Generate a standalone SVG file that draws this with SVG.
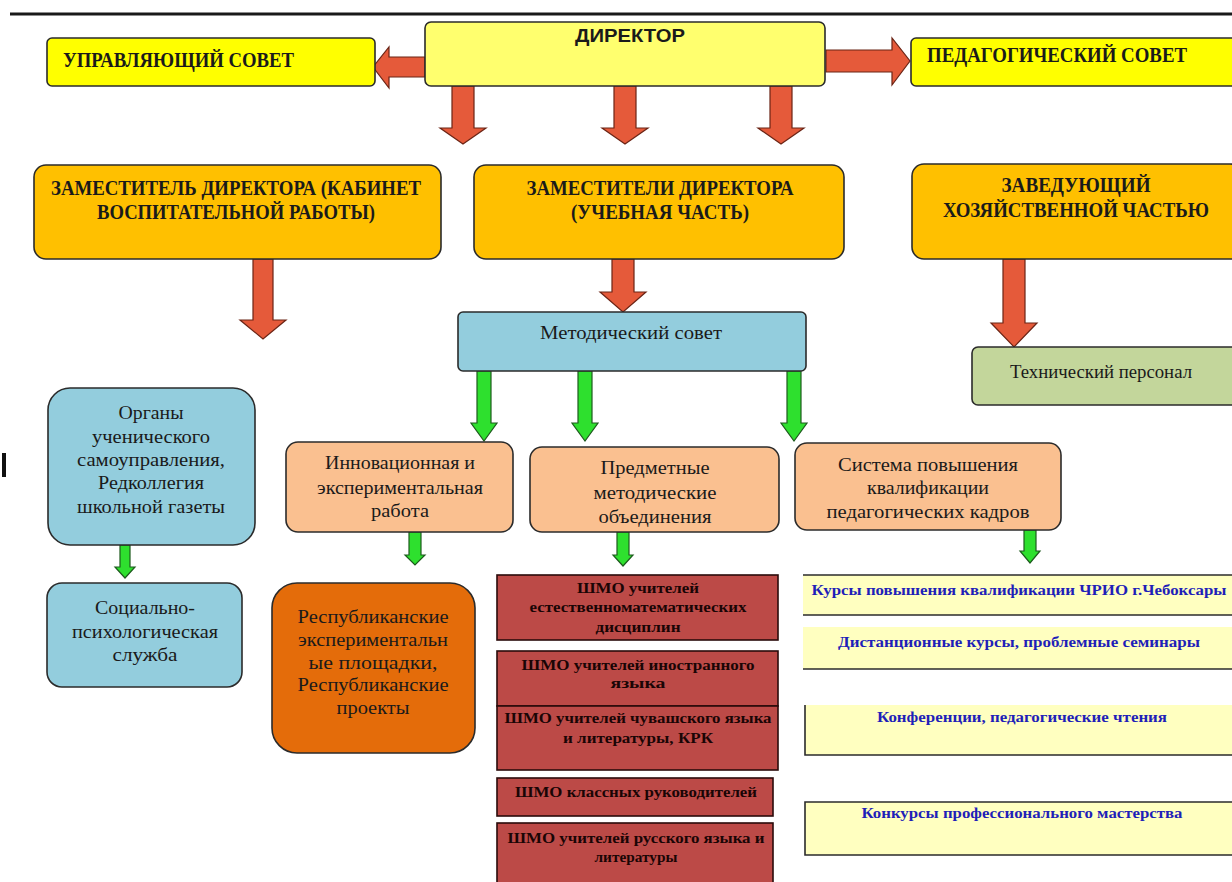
<svg xmlns="http://www.w3.org/2000/svg" width="1232" height="882" viewBox="0 0 1232 882">
<style>
.box{stroke:#2b2b2b;stroke-width:1.6}
.yel{fill:#FFFF00}
.dir{fill:#FFFF6E}
.org{fill:#FFC000}
.blu{fill:#93CDDD}
.pch{fill:#FAC090}
.dor{fill:#E46C0A}
.olv{fill:#C3D69B}
.shmo{fill:#BC4A47;stroke:#2a0a0a;stroke-width:1.6}
.ly{fill:#FFFFC0}
.ln{stroke:#2b2b2b;stroke-width:1.6;fill:none}
.ra{fill:#E55A3A;stroke:#6b2415;stroke-width:1.2}
.ga{fill:#2EE02E;stroke:#1d5a1d;stroke-width:1.2}
text{font-family:"Liberation Serif","Times New Roman",serif;fill:#1a1a1a}
.hd{font-size:20px;font-weight:bold;text-anchor:middle}
.hl{font-size:20px;font-weight:bold}
.nm{font-size:18px;text-anchor:middle}
.sm{font-size:14px;font-weight:bold;text-anchor:middle;fill:#1a0505}
.bt{font-size:14px;font-weight:bold;text-anchor:middle;fill:#1F1FB8}
</style>
<rect x="0" y="0" width="1232" height="882" fill="#FFFFFF"/>
<line x1="10" y1="14" x2="1232" y2="14" stroke="#1a1a1a" stroke-width="3"/>
<rect x="2" y="453" width="4" height="24" fill="#111"/>

<g id="connectors">
<polygon class="ra" points="425,57 389,57 389,47 373,67 389,88 389,77 425,77"/>
<polygon class="ra" points="826,50 892,50 892,38 910,61 892,85 892,72 826,72"/>
<polygon class="ra" points="452,86 474,86 474,128 486,128 463,144 440,128 452,128"/>
<polygon class="ra" points="614,86 636,86 636,128 648,128 625,144 602,128 614,128"/>
<polygon class="ra" points="770,86 792,86 792,128 804,128 781,144 758,128 770,128"/>
<polygon class="ra" points="253,259 273,259 273,320 286,320 263,339 240,320 253,320"/>
<polygon class="ra" points="612,259 634,259 634,292 646,292 623,312 600,292 612,292"/>
<polygon class="ra" points="1003,259 1025,259 1025,323 1037,323 1014,347 991,323 1003,323"/>
<polygon class="ga" points="477,371 491,371 491,423 497,423 484,441 471,423 477,423"/>
<polygon class="ga" points="578,371 592,371 592,423 598,423 585,441 572,423 578,423"/>
<polygon class="ga" points="787,371 801,371 801,423 807,423 794,441 781,423 787,423"/>
<polygon class="ga" points="120,545 130,545 130,567 135,567 125,578 115,567 120,567"/>
<polygon class="ga" points="409,532 421,532 421,555 425,555 415,565 405,555 409,555"/>
<polygon class="ga" points="617,532 629,532 629,555 633,555 623,566 613,555 617,555"/>
<polygon class="ga" points="1024,530 1036,530 1036,551 1040,551 1030,563 1020,551 1024,551"/>
</g>

<g id="director">
<rect class="box dir" x="425" y="22" width="400" height="64" rx="6"/>
<text x="630" y="42" style="font-family:'Liberation Sans',Arial,sans-serif;font-size:18px;font-weight:bold;text-anchor:middle" textLength="110" lengthAdjust="spacingAndGlyphs">ДИРЕКТОР</text>
</g>
<g id="upr-sovet">
<rect class="box yel" x="47" y="38" width="328" height="48" rx="5"/>
<text class="hl" x="63" y="67" textLength="231" lengthAdjust="spacingAndGlyphs">УПРАВЛЯЮЩИЙ СОВЕТ</text>
</g>
<g id="ped-sovet">
<rect class="box yel" x="911" y="38" width="330" height="48" rx="5"/>
<text class="hl" x="927" y="62" textLength="260" lengthAdjust="spacingAndGlyphs">ПЕДАГОГИЧЕСКИЙ СОВЕТ</text>
</g>

<g id="zam-vosp">
<rect class="box org" x="34" y="165" width="407" height="94" rx="12"/>
<text class="hd" x="236" y="195" textLength="370" lengthAdjust="spacingAndGlyphs">ЗАМЕСТИТЕЛЬ ДИРЕКТОРА (КАБИНЕТ</text>
<text class="hd" x="236" y="219" textLength="278" lengthAdjust="spacingAndGlyphs">ВОСПИТАТЕЛЬНОЙ РАБОТЫ)</text>
</g>
<g id="zam-uch">
<rect class="box org" x="474" y="165" width="370" height="94" rx="12"/>
<text class="hd" x="660" y="195" textLength="267" lengthAdjust="spacingAndGlyphs">ЗАМЕСТИТЕЛИ ДИРЕКТОРА</text>
<text class="hd" x="660" y="219" textLength="178" lengthAdjust="spacingAndGlyphs">(УЧЕБНАЯ ЧАСТЬ)</text>
</g>
<g id="zav-hoz">
<rect class="box org" x="912" y="164" width="330" height="95" rx="12"/>
<text class="hd" x="1076" y="192" textLength="149" lengthAdjust="spacingAndGlyphs">ЗАВЕДУЮЩИЙ</text>
<text class="hd" x="1076" y="217" textLength="266" lengthAdjust="spacingAndGlyphs">ХОЗЯЙСТВЕННОЙ ЧАСТЬЮ</text>
</g>

<g id="metod-sovet">
<rect class="box blu" x="458" y="312" width="348" height="59" rx="5"/>
<text class="nm" x="631" y="339" textLength="182" lengthAdjust="spacingAndGlyphs">Методический совет</text>
</g>
<g id="tech-personal">
<rect class="box olv" x="972" y="347" width="270" height="58" rx="6"/>
<text class="nm" x="1101" y="378" textLength="182" lengthAdjust="spacingAndGlyphs">Технический персонал</text>
</g>

<g id="organy">
<rect class="box blu" x="48" y="388" width="207" height="157" rx="22"/>
<text class="nm" x="151" y="419" textLength="65" lengthAdjust="spacingAndGlyphs">Органы</text>
<text class="nm" x="151" y="443" textLength="118" lengthAdjust="spacingAndGlyphs">ученического</text>
<text class="nm" x="151" y="466" textLength="148" lengthAdjust="spacingAndGlyphs">самоуправления,</text>
<text class="nm" x="151" y="489" textLength="106" lengthAdjust="spacingAndGlyphs">Редколлегия</text>
<text class="nm" x="151" y="513" textLength="148" lengthAdjust="spacingAndGlyphs">школьной газеты</text>
</g>
<g id="innov">
<rect class="box pch" x="286" y="442" width="227" height="90" rx="12"/>
<text class="nm" x="400" y="469" textLength="150" lengthAdjust="spacingAndGlyphs">Инновационная и</text>
<text class="nm" x="400" y="494" textLength="166" lengthAdjust="spacingAndGlyphs">экспериментальная</text>
<text class="nm" x="400" y="517" textLength="58" lengthAdjust="spacingAndGlyphs">работа</text>
</g>
<g id="predmet">
<rect class="box pch" x="530" y="447" width="249" height="85" rx="12"/>
<text class="nm" x="655" y="474" textLength="109" lengthAdjust="spacingAndGlyphs">Предметные</text>
<text class="nm" x="655" y="499" textLength="123" lengthAdjust="spacingAndGlyphs">методические</text>
<text class="nm" x="655" y="523" textLength="113" lengthAdjust="spacingAndGlyphs">объединения</text>
</g>
<g id="sistema">
<rect class="box pch" x="795" y="443" width="266" height="87" rx="12"/>
<text class="nm" x="928" y="471" textLength="180" lengthAdjust="spacingAndGlyphs">Система повышения</text>
<text class="nm" x="928" y="494" textLength="122" lengthAdjust="spacingAndGlyphs">квалификации</text>
<text class="nm" x="928" y="518" textLength="203" lengthAdjust="spacingAndGlyphs">педагогических кадров</text>
</g>

<g id="social">
<rect class="box blu" x="47" y="583" width="195" height="104" rx="15"/>
<text class="nm" x="145" y="614" textLength="100" lengthAdjust="spacingAndGlyphs">Социально-</text>
<text class="nm" x="145" y="638" textLength="146" lengthAdjust="spacingAndGlyphs">психологическая</text>
<text class="nm" x="145" y="661" textLength="65" lengthAdjust="spacingAndGlyphs">служба</text>
</g>
<g id="respub">
<rect class="box dor" x="272" y="583" width="203" height="170" rx="25"/>
<text class="nm" x="373" y="623" textLength="151" lengthAdjust="spacingAndGlyphs">Республиканские</text>
<text class="nm" x="373" y="646" textLength="150" lengthAdjust="spacingAndGlyphs">экспериментальн</text>
<text class="nm" x="373" y="669" textLength="129" lengthAdjust="spacingAndGlyphs">ые площадки,</text>
<text class="nm" x="373" y="691" textLength="151" lengthAdjust="spacingAndGlyphs">Республиканские</text>
<text class="nm" x="373" y="714" textLength="73" lengthAdjust="spacingAndGlyphs">проекты</text>
</g>

<g id="shmo-estmat">
<rect class="shmo" x="497" y="575" width="281" height="65"/>
<text class="sm" x="638" y="593" textLength="122" lengthAdjust="spacingAndGlyphs">ШМО учителей</text>
<text class="sm" x="638" y="612" textLength="217" lengthAdjust="spacingAndGlyphs">естественноматематических</text>
<text class="sm" x="638" y="632" textLength="85" lengthAdjust="spacingAndGlyphs">дисциплин</text>
</g>
<g id="shmo-inostr">
<rect class="shmo" x="497" y="651" width="281" height="55"/>
<text class="sm" x="638" y="670" textLength="233" lengthAdjust="spacingAndGlyphs">ШМО учителей иностранного</text>
<text class="sm" x="638" y="688" textLength="55" lengthAdjust="spacingAndGlyphs">языка</text>
</g>
<g id="shmo-chuv">
<rect class="shmo" x="497" y="706" width="281" height="64"/>
<text class="sm" x="638" y="723" textLength="267" lengthAdjust="spacingAndGlyphs">ШМО учителей чувашского языка</text>
<text class="sm" x="638" y="743" textLength="150" lengthAdjust="spacingAndGlyphs">и литературы, КРК</text>
</g>
<g id="shmo-klass">
<rect class="shmo" x="497" y="778" width="276" height="38"/>
<text class="sm" x="636" y="797" textLength="242" lengthAdjust="spacingAndGlyphs">ШМО классных руководителей</text>
</g>
<g id="shmo-rus">
<rect class="shmo" x="497" y="823" width="276" height="65"/>
<text class="sm" x="636" y="843" textLength="257" lengthAdjust="spacingAndGlyphs">ШМО учителей русского языка и</text>
<text class="sm" x="636" y="862" textLength="83" lengthAdjust="spacingAndGlyphs">литературы</text>
</g>

<g id="kursy">
<rect class="ly" x="803" y="575" width="429" height="40"/>
<line class="ln" x1="803" y1="575" x2="1232" y2="575"/>
<line class="ln" x1="803" y1="615" x2="1232" y2="615"/>
<text class="bt" x="1019" y="595" textLength="415" lengthAdjust="spacingAndGlyphs">Курсы повышения квалификации ЧРИО г.Чебоксары</text>
</g>
<g id="distant">
<rect class="ly" x="803" y="627" width="429" height="42"/>
<line class="ln" x1="803" y1="669" x2="1232" y2="669"/>
<text class="bt" x="1019" y="647" textLength="362" lengthAdjust="spacingAndGlyphs">Дистанционные курсы, проблемные семинары</text>
</g>
<g id="konf">
<rect class="ly" x="805" y="705" width="427" height="50"/>
<polyline class="ln" points="805,705 805,755 1232,755"/>
<text class="bt" x="1022" y="722" textLength="290" lengthAdjust="spacingAndGlyphs">Конференции, педагогические чтения</text>
</g>
<g id="konkurs">
<rect class="ly" x="805" y="802" width="427" height="53"/>
<polyline class="ln" points="1232,802 805,802 805,855 1232,855"/>
<text class="bt" x="1022" y="818" textLength="321" lengthAdjust="spacingAndGlyphs">Конкурсы профессионального мастерства</text>
</g>
</svg>
